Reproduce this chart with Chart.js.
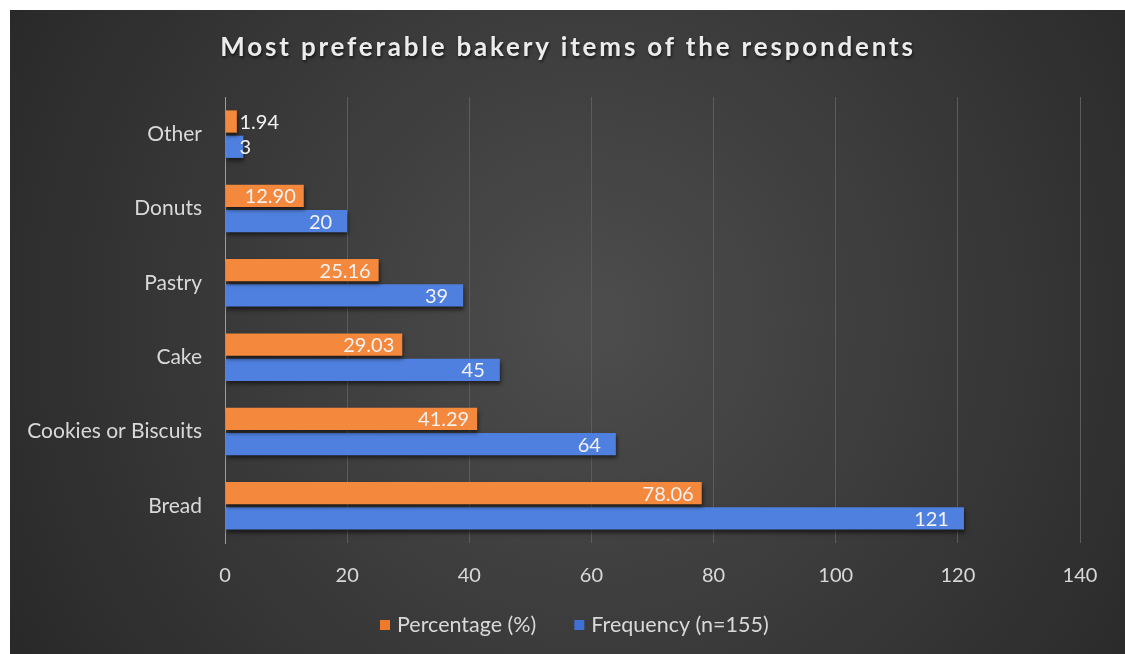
<!DOCTYPE html>
<html>
<head>
<meta charset="utf-8">
<script src="https://cdn.jsdelivr.net/npm/chart.js@4.4.1/dist/chart.umd.min.js"></script>
<style>
html,body{margin:0;padding:0;background:#fff;}
#wrap{width:1125px;height:654px;position:relative;}
</style>
</head>
<body>
<div id="wrap"><canvas id="c" width="1125" height="654"></canvas></div>
<script>
const chartTitle = 'Most preferable bakery items of the respondents';
const categories = ['Other', 'Donuts', 'Pastry', 'Cake', 'Cookies or Biscuits', 'Bread'];
const percentageValues = [1.94, 12.90, 25.16, 29.03, 41.29, 78.06];
const percentageLabels = ['1.94', '12.90', '25.16', '29.03', '41.29', '78.06'];
const frequencyValues = [3, 20, 39, 45, 64, 121];
const frequencyLabels = ['3', '20', '39', '45', '64', '121'];
const seriesNames = ['Percentage (%)', 'Frequency (n=155)'];
const seriesColors = ['#ef7a2c', '#3f70d4'];
const xTicks = [0, 20, 40, 60, 80, 100, 120, 140];

const FONT = 'Lato, "Open Sans", sans-serif';
const TEXT = '#d9d9d9';

function barGradient(chart, top, bottom) {
  return function(context) {
    const el = context.element;
    if (!el || el.y === undefined || isNaN(el.y)) return top;
    const h = el.height || 23;
    const g = chart.ctx.createLinearGradient(0, el.y - h / 2, 0, el.y + h / 2);
    g.addColorStop(0, top);
    g.addColorStop(1, bottom);
    return g;
  };
}

const bgPlugin = {
  id: 'bg',
  beforeDraw(chart) {
    const ctx = chart.ctx;
    ctx.save();
    ctx.fillStyle = '#ffffff';
    ctx.fillRect(0, 0, chart.width, chart.height);
    const g = ctx.createRadialGradient(590, 320, 20, 590, 320, 720);
    g.addColorStop(0, '#4c4c4c');
    g.addColorStop(1, '#262626');
    ctx.fillStyle = g;
    ctx.fillRect(10, 10, chart.width - 10, chart.height - 10);
    // title
    ctx.font = 'bold 26px ' + FONT;
    ctx.letterSpacing = '2.8px';
    ctx.textAlign = 'center';
    ctx.textBaseline = 'middle';
    ctx.shadowColor = 'rgba(0,0,0,0.6)';
    ctx.shadowBlur = 3;
    ctx.shadowOffsetX = 1;
    ctx.shadowOffsetY = 2;
    ctx.fillStyle = '#ececec';
    ctx.fillText(chartTitle, 568, 48);
    ctx.restore();

    // legend
    ctx.save();
    ctx.font = '21.5px ' + FONT;
    ctx.textBaseline = 'middle';
    ctx.textAlign = 'left';
    const ly = 625;
    let lx = 380;
    seriesNames.forEach((name, i) => {
      ctx.fillStyle = seriesColors[i];
      ctx.fillRect(lx, ly - 5, 10, 10);
      ctx.fillStyle = TEXT;
      ctx.fillText(name, lx + 17, ly);
      lx += 17 + ctx.measureText(name).width + 38;
    });
    ctx.restore();
  },
  beforeDatasetsDraw(chart) {
    const ctx = chart.ctx;
    ctx.save();
    ctx.shadowColor = 'rgba(0,0,0,0.55)';
    ctx.shadowBlur = 4;
    ctx.shadowOffsetX = 1;
    ctx.shadowOffsetY = 3;
  },
  afterDatasetsDraw(chart) {
    const ctx = chart.ctx;
    ctx.restore();
    ctx.save();
    ctx.font = '20px ' + FONT;
    ctx.textBaseline = 'middle';
    ctx.fillStyle = '#f2f2f2';
    const labelSets = [percentageLabels, frequencyLabels];
    const pads = [8, 15];
    chart.data.datasets.forEach((ds, di) => {
      const meta = chart.getDatasetMeta(di);
      meta.data.forEach((bar, i) => {
        const txt = labelSets[di][i];
        const w = ctx.measureText(txt).width;
        let x = bar.x - pads[di] - w;
        const minX = bar.base + 14;
        if (x < minX) x = minX;
        ctx.textAlign = 'left';
        ctx.fillText(txt, x, bar.y + 1);
      });
    });
    ctx.restore();
  }
};

const ctx = document.getElementById('c').getContext('2d');
const chart = new Chart(ctx, {
  type: 'bar',
  data: {
    labels: categories,
    datasets: [
      {
        label: seriesNames[0],
        data: percentageValues,
        backgroundColor: (c) => barGradient(c.chart, '#f4883c', '#de6a1c')(c),
        borderWidth: 0,
        categoryPercentage: 0.68,
        barPercentage: 0.88
      },
      {
        label: seriesNames[1],
        data: frequencyValues,
        backgroundColor: (c) => barGradient(c.chart, '#4f80df', '#3062c6')(c),
        borderWidth: 0,
        categoryPercentage: 0.68,
        barPercentage: 0.88
      }
    ]
  },
  options: {
    indexAxis: 'y',
    responsive: false,
    animation: false,
    devicePixelRatio: 1,
    layout: { padding: { left: 10, top: 97, right: 45, bottom: 51 } },
    scales: {
      x: {
        min: 0,
        max: 140,
        afterBuildTicks(scale) { scale.ticks = xTicks.map(v => ({ value: v })); },
        grid: { color: '#5c5c5c', lineWidth: 1, drawTicks: false },
        border: { display: false },
        ticks: { color: TEXT, font: { family: FONT, size: 20 }, padding: 21 },
        afterFit(scale) { scale.height = 60; }
      },
      y: {
        grid: { display: false },
        border: { display: true, color: '#9c9c9c', width: 1 },
        ticks: { color: TEXT, font: { family: FONT, size: 21 }, padding: 15 },
        afterFit(scale) { scale.width = 215; }
      }
    },
    plugins: {
      legend: { display: false },
      title: { display: false },
      tooltip: { enabled: false }
    }
  },
  plugins: [bgPlugin]
});
</script>
</body>
</html>
